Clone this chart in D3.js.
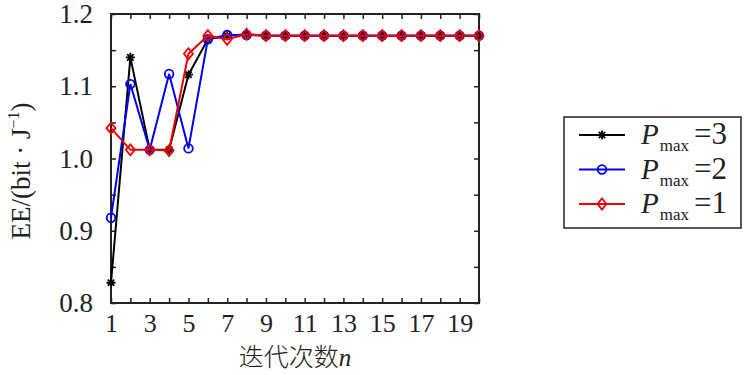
<!DOCTYPE html>
<html>
<head>
<meta charset="utf-8">
<script src="https://cdn.jsdelivr.net/npm/d3@7"></script>
<style>
  body { margin: 0; background: #fff; }
  svg { display: block; }
  .tick text { font-family: "Liberation Serif", "DejaVu Serif", serif; }
</style>
</head>
<body>
<script>
// iteration index
var iterations = d3.range(1, 21);
// EE values per Pmax setting
var pmax3 = [0.828, 1.140, 1.012, 1.012, 1.116, 1.165, 1.170, 1.172, 1.170, 1.170,
             1.170, 1.170, 1.170, 1.170, 1.170, 1.170, 1.170, 1.170, 1.170, 1.170];
var pmax2 = [0.918, 1.103, 1.012, 1.117, 1.014, 1.165, 1.171, 1.171, 1.170, 1.170,
             1.170, 1.170, 1.170, 1.170, 1.170, 1.170, 1.170, 1.170, 1.170, 1.170];
var pmax1 = [1.042, 1.012, 1.012, 1.011, 1.145, 1.170, 1.165, 1.172, 1.170, 1.170,
             1.170, 1.170, 1.170, 1.170, 1.170, 1.170, 1.170, 1.170, 1.170, 1.170];
var seriesNames = ["3", "2", "1"];
var xTickLabels = [1, 3, 5, 7, 9, 11, 13, 15, 17, 19];
var yTickLabels = [0.8, 0.9, 1.0, 1.1, 1.2];

window.onload = function(){

    var w = 746, h = 375;
    var pL = 111, pR = 479, pT = 14, pB = 303;       //plot frame

    var svg = d3.select("body").append("svg")
        .attr("width", w)
        .attr("height", h);

    var x = d3.scaleLinear().domain([1, 20]).range([pL, pR]);
    var y = d3.scaleLinear().domain([0.8, 1.2]).range([pB, pT]);

    var yMinor = d3.range(0, 9).map(function(i){ return 0.8 + i * 0.05; });

    // inward ticks on all four sides
    svg.append("g")
        .attr("transform", "translate(0," + pB + ")")
        .call(d3.axisBottom(x).tickValues(iterations).tickSize(-5).tickFormat(""));
    svg.append("g")
        .attr("transform", "translate(0," + pT + ")")
        .call(d3.axisTop(x).tickValues(iterations).tickSize(-5).tickFormat(""));
    svg.append("g")
        .attr("transform", "translate(" + pL + ",0)")
        .call(d3.axisLeft(y).tickValues(yMinor).tickSize(-5).tickFormat(""));
    svg.append("g")
        .attr("transform", "translate(" + pR + ",0)")
        .call(d3.axisRight(y).tickValues(yMinor).tickSize(-5).tickFormat(""));

    svg.selectAll(".domain").remove();
    svg.selectAll(".tick line").attr("stroke", "#222").attr("stroke-width", 1.5);

    // tick labels
    var xLab = svg.append("g")
        .attr("transform", "translate(0," + pB + ")")
        .call(d3.axisBottom(x).tickValues(xTickLabels).tickSize(0).tickPadding(29));
    xLab.select(".domain").remove();
    xLab.selectAll("text").attr("font-size", 26).attr("fill", "#222").attr("dy", 0);

    var yLab = svg.append("g")
        .attr("transform", "translate(" + pL + ",0)")
        .call(d3.axisLeft(y).tickValues(yTickLabels).tickSize(0).tickPadding(18).tickFormat(d3.format(".1f")));
    yLab.select(".domain").remove();
    yLab.selectAll("text").attr("font-size", 27).attr("fill", "#222");

    // frame
    svg.append("rect")
        .attr("x", pL).attr("y", pT)
        .attr("width", pR - pL).attr("height", pB - pT)
        .attr("fill", "none").attr("stroke", "#222").attr("stroke-width", 2);

    var line = d3.line()
        .x(function(d, i){ return x(iterations[i]); })
        .y(function(d){ return y(d); });

    var series = [
        {vals: pmax3, color: "#000000", marker: "star"},
        {vals: pmax2, color: "#0000ee", marker: "circle"},
        {vals: pmax1, color: "#ee0000", marker: "diamond"}
    ];

    function drawMarker(g, kind, color){
        if (kind === "star") {
            g.append("path")
                .attr("d", "M-4.5,0H4.5M0,-4.5V4.5M-3.2,-3.2L3.2,3.2M-3.2,3.2L3.2,-3.2")
                .attr("stroke", color).attr("stroke-width", 1.8);
        } else if (kind === "circle") {
            g.append("circle").attr("r", 4.3)
                .attr("fill", "none").attr("stroke", color).attr("stroke-width", 1.8);
        } else {
            g.append("path").attr("d", "M0,-5.5L4.5,0L0,5.5L-4.5,0Z")
                .attr("fill", "none").attr("stroke", color).attr("stroke-width", 1.8);
        }
    }

    series.forEach(function(s){
        svg.append("path")
            .datum(s.vals)
            .attr("d", line)
            .attr("fill", "none")
            .attr("stroke", s.color)
            .attr("stroke-width", 2);
        svg.selectAll(".m-" + s.marker)
            .data(s.vals)
            .enter()
            .append("g")
            .attr("class", "m-" + s.marker)
            .attr("transform", function(d, i){ return "translate(" + x(iterations[i]) + "," + y(d) + ")"; })
            .each(function(){ drawMarker(d3.select(this), s.marker, s.color); });
    });

    // axis titles
    var xTitle = svg.append("text")
        .attr("x", 295).attr("y", 366)
        .attr("text-anchor", "middle")
        .attr("font-size", 25)
        .attr("fill", "#222");
    xTitle.append("tspan").attr("font-family", "'Noto Sans CJK SC'").attr("font-weight", 300).text("迭代次数");
    xTitle.append("tspan").attr("font-family", "'Liberation Serif'").attr("font-style", "italic").text("n");

    var yTitle = svg.append("text")
        .attr("transform", "translate(30,171) rotate(-90)")
        .attr("text-anchor", "middle")
        .attr("font-family", "'Liberation Serif'")
        .attr("font-size", 27)
        .attr("fill", "#222");
    yTitle.append("tspan").text("EE/(bit · J");
    yTitle.append("tspan").attr("font-size", 16).attr("dy", -11).text("−1");
    yTitle.append("tspan").attr("dy", 11).text(")");

    // legend
    var legend = svg.append("g");
    legend.append("rect")
        .attr("x", 564).attr("y", 117)
        .attr("width", 177).attr("height", 111)
        .attr("fill", "#fff").attr("stroke", "#222").attr("stroke-width", 1.5);

    var rows = legend.selectAll(".legRow")
        .data(series)
        .enter()
        .append("g")
        .attr("class", "legRow")
        .attr("transform", function(d, i){ return "translate(0," + (135 + i * 34.5) + ")"; });

    rows.append("line")
        .attr("x1", 579).attr("x2", 625)
        .attr("stroke", function(d){ return d.color; })
        .attr("stroke-width", 2);
    rows.append("g")
        .attr("transform", "translate(602,0)")
        .each(function(d){ drawMarker(d3.select(this), d.marker, d.color); });

    var lt = rows.append("text")
        .attr("x", 641).attr("y", 9)
        .attr("font-family", "'Liberation Serif'")
        .attr("fill", "#222");
    lt.append("tspan").attr("font-size", 29).attr("font-style", "italic").text("P");
    lt.append("tspan").attr("font-size", 17).attr("dy", 7).attr("dx", 1).text("max");
    lt.append("tspan").attr("font-size", 31).attr("dy", -7).attr("x", 694)
        .text(function(d, i){ return "=" + seriesNames[i]; });
};
</script>
</body>
</html>
